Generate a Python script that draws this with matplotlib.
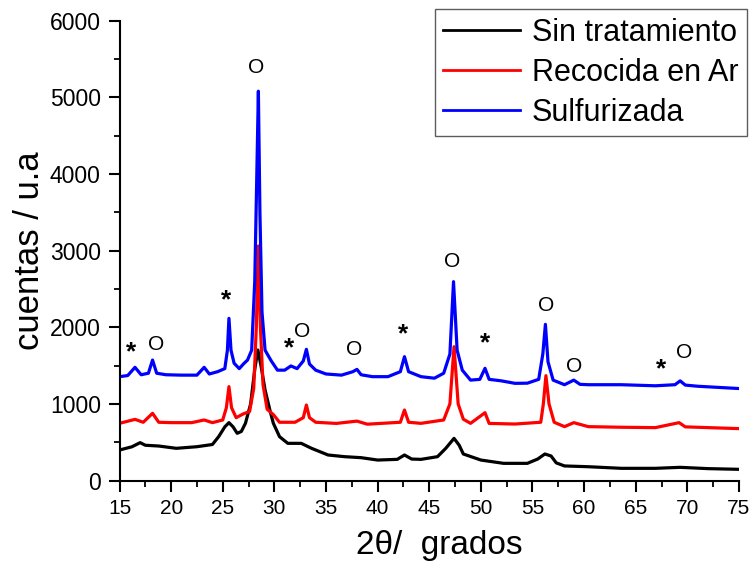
import matplotlib
matplotlib.use("Agg")
import matplotlib.pyplot as plt
from matplotlib.ticker import MultipleLocator

# ---- data ----
x_sin = [15, 16.2, 17.0, 17.5, 18.8, 20.5, 22.5, 24.0, 24.6, 25.2, 25.6, 26.0, 26.4, 26.8, 27.2,
         27.7, 28.1, 28.4, 28.7, 29.1, 29.6, 29.9, 30.5, 31.3, 32.6, 33.6, 35.2, 36.8, 38.4, 40,
         41.9, 42.6, 43.3, 44.2, 45.8, 46.6, 47.4, 47.9, 48.3, 50, 52.2, 54.5, 55.5, 56.2, 56.8,
         57.3, 58.1, 60.4, 63.6, 66.9, 69.3, 72, 75]
y_sin = [398, 440, 494, 460, 450, 420, 441, 470, 572, 700, 755, 700, 616, 640, 747,
         1000, 1450, 1703, 1500, 1180, 900, 747, 572, 485, 485, 420, 333, 311, 298, 267,
         276, 333, 280, 276, 311, 420, 550, 460, 346, 267, 224, 224, 280, 346, 320,
         230, 190, 180, 159, 159, 172, 155, 146]

x_rec = [15, 16.5, 17.3, 18.2, 18.8, 20, 22, 23.2, 24, 25.0, 25.35, 25.6, 25.85, 26.3, 27,
         27.6, 28.0, 28.25, 28.45, 28.65, 28.9, 29.3, 29.9, 30.5, 32, 32.8, 33.1, 33.4, 34, 36,
         38, 39, 42.2, 42.6, 43.0, 44.2, 46.4, 47.0, 47.4, 47.8, 48.3, 49, 50.4, 50.8, 53.3,
         55.8, 56.05, 56.3, 56.6, 57.1, 58.1, 59.0, 60.4, 63.6, 66.9, 69.2, 69.8, 75]
y_rec = [746, 798, 760, 877, 760, 755, 755, 790, 755, 790, 950, 1225, 950, 820, 870,
         900, 1200, 2000, 3060, 2000, 1250, 930, 860, 760, 760, 820, 985, 820, 760, 745,
         775, 735, 760, 920, 760, 746, 790, 1000, 1746, 1000, 800, 746, 885, 745, 737,
         760, 1000, 1368, 1000, 760, 703, 755, 703, 695, 690, 755, 700, 677]

x_sul = [15, 15.8, 16.5, 17.1, 17.8, 18.2, 18.6, 19.5, 21, 22.5, 23.2, 23.7, 24.5, 25.2, 25.45,
         25.6, 25.8, 26.1, 26.6, 27.0, 27.4, 27.8, 28.1, 28.3, 28.45, 28.6, 28.8, 29.1, 29.7, 30.3,
         31.0, 31.6, 32.2, 32.8, 33.1, 33.4, 34.0, 35, 36.5, 37.6, 38.0, 38.4, 39.5, 41, 42.2,
         42.6, 43.0, 44.2, 45.5, 46.4, 47.0, 47.35, 47.7, 48.2, 49, 49.9, 50.4, 50.8, 52, 53.3,
         54.5, 55.6, 56.0, 56.25, 56.5, 57.0, 58.1, 59.0, 59.6, 60.4, 63.6, 66.9, 68.8, 69.3, 69.8,
         71, 73, 75]
y_sul = [1355, 1370, 1477, 1380, 1400, 1572, 1400, 1380, 1375, 1375, 1477, 1390, 1420, 1460, 1700,
         2116, 1700, 1530, 1460, 1520, 1572, 1700, 2600, 4000, 5080, 3500, 2200, 1700, 1560, 1440,
         1440, 1495, 1460, 1560, 1712, 1520, 1440, 1390, 1375, 1420, 1450, 1380, 1355, 1355, 1420,
         1616, 1420, 1355, 1335, 1400, 1650, 2595, 1700, 1440, 1310, 1320, 1464, 1320, 1300, 1268,
         1270, 1320, 1650, 2038, 1550, 1310, 1250, 1310, 1255, 1250, 1250, 1236, 1250, 1300, 1245,
         1230, 1215, 1200]

series_labels = ["Sin tratamiento", "Recocida en Ar", "Sulfurizada"]
series_colors = ["black", "red", "blue"]

# annotations: marker text, x, y
ann_text = ["*", "O", "*", "O", "*", "O", "O", "*", "O", "*", "O", "O", "*", "O"]
ann_x = [16.1, 18.5, 25.3, 28.25, 31.45, 32.7, 37.7, 42.5, 47.2, 50.4, 56.3, 59.0, 67.5, 69.7]
ann_y = [1677, 1781, 2355, 5383, 1729, 1938, 1703, 1912, 2864, 1794, 2290, 1494, 1455, 1664]

x_ticks = [15, 20, 25, 30, 35, 40, 45, 50, 55, 60, 65, 70, 75]
y_ticks = [0, 1000, 2000, 3000, 4000, 5000, 6000]

# ---- figure ----
plt.rcParams['font.family'] = ['Liberation Sans', 'DejaVu Sans']
fig = plt.figure(figsize=(7.53, 5.70), dpi=100)
ax = fig.add_axes([0.1587, 0.157, 0.8227, 0.8067])

for xs, ys, lab, col in zip([x_sin, x_rec, x_sul], [y_sin, y_rec, y_sul], series_labels, series_colors):
    ax.plot(xs, ys, color=col, lw=2.3, label=lab, solid_joinstyle='round')

for t, xv, yv in zip(ann_text, ann_x, ann_y):
    if t == "*":
        ax.text(xv, yv, t, ha='center', va='center', fontsize=19, fontweight='bold', color='black')
    else:
        ax.text(xv, yv, t, ha='center', va='center', fontsize=15, color='black')

ax.set_xlim(15, 75)
ax.set_ylim(0, 6000)
ax.set_xticks(x_ticks)
ax.set_yticks(y_ticks)
ax.xaxis.set_minor_locator(MultipleLocator(2.5))
ax.yaxis.set_minor_locator(MultipleLocator(500))
ax.spines['top'].set_visible(False)
ax.spines['right'].set_visible(False)
for s in ['left', 'bottom']:
    ax.spines[s].set_linewidth(1.5)
ax.tick_params(which='major', direction='out', length=8, width=1.5)
ax.tick_params(which='minor', direction='out', length=4.5, width=1.3)
ax.tick_params(axis='y', which='major', labelsize=16.5, pad=5.5)
ax.tick_params(axis='x', which='major', labelsize=15, pad=5)

ax.set_ylabel("cuentas / u.a", fontsize=25, labelpad=3)
ax.set_xlabel("2θ/  grados", fontsize=24, labelpad=9, x=0.516)

leg = fig.legend(loc='upper right', bbox_to_anchor=(0.992, 0.984), fontsize=22, frameon=True,
                 fancybox=False, edgecolor='#333333', borderaxespad=0, handlelength=2.5,
                 handletextpad=0.4, labelspacing=0.33, borderpad=0.28)
leg.get_frame().set_linewidth(1.0)
for line in leg.get_lines():
    line.set_linewidth(2.0)

fig.savefig("out.png", dpi=100)
